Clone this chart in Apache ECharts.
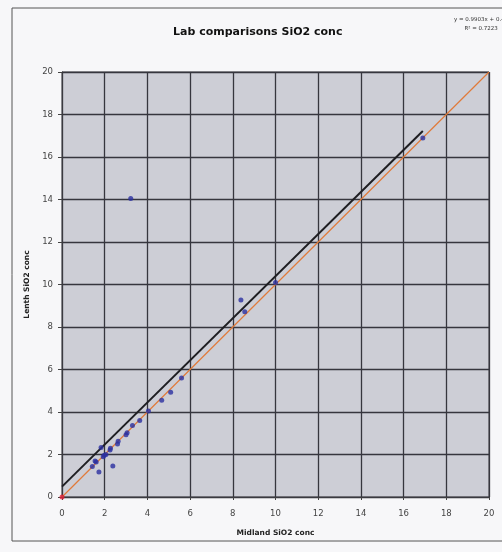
<!DOCTYPE html>
<html>
<head>
<meta charset="utf-8">
<script src="https://cdn.jsdelivr.net/npm/echarts@6/dist/echarts.min.js"></script>
<style>
  html, body { margin: 0; padding: 0; background: #f7f7f9; }
  #chart { width: 502px; height: 552px; }
</style>
</head>
<body>
<div id="chart"></div>
<script>
// Paired SiO2 concentrations measured by the two labs
const midland = [3.22, 16.9, 10.0, 8.38, 8.56, 5.6, 5.09, 4.67, 4.05, 3.64, 3.3, 3.05, 3.0,
                 2.63, 2.6, 2.27, 2.25, 1.83, 1.98, 2.06, 1.93, 1.55, 1.6, 1.42, 1.73, 2.38];
const lenth   = [14.05, 16.9, 10.1, 9.27, 8.72, 5.6, 4.93, 4.55, 4.05, 3.6, 3.36, 3.02, 2.93,
                 2.62, 2.5, 2.3, 2.21, 2.33, 1.97, 2.0, 1.9, 1.7, 1.65, 1.43, 1.18, 1.46];
const originPoint = [0, 0];

// Linear trendline fitted to the data, and the 1:1 reference line
const trendSlope = 0.9903;
const trendIntercept = 0.4898;
const trendR2 = 0.7223;
const parityRange = [0, 20];

const axisTicks = [0, 2, 4, 6, 8, 10, 12, 14, 16, 18, 20];

const title = 'Lab comparisons SiO2 conc';
const xName = 'Midland SiO2 conc';
const yName = 'Lenth SiO2 conc';

const points = midland.map((x, i) => [x, lenth[i]]);
const xMin = 0;
const xMax = Math.max(...midland);
const trendLine = [xMin, xMax].map(x => [x, trendSlope * x + trendIntercept]);
const parityLine = parityRange.map(v => [v, v]);

const chart = echarts.init(document.getElementById('chart'), null, { renderer: 'canvas' });
const font = 'DejaVu Sans, Verdana, sans-serif';

chart.setOption({
  backgroundColor: '#f7f7f9',
  animation: false,
  graphic: [
    { type: 'rect', shape: { x: 12, y: 8, width: 520, height: 533 },
      style: { fill: 'none', stroke: '#555', lineWidth: 1 }, silent: true },
    { type: 'text', left: 173, top: 27,
      style: { text: title, font: 'bold 11px ' + font, fill: '#111' } },
    { type: 'text', left: 454, top: 15,
      style: { text: 'y = ' + trendSlope.toFixed(4) + 'x + ' + trendIntercept.toFixed(4) +
                     '\n      R² = ' + trendR2.toFixed(4),
               font: '5.5px ' + font, fill: '#333', lineHeight: 9 } }
  ],
  grid: { left: 62, right: 13, top: 72, bottom: 55, show: true,
          backgroundColor: '#cdced6', borderColor: '#3a3a40', borderWidth: 1 },
  xAxis: {
    type: 'value', min: 0, max: 20, interval: 2,
    name: xName, nameLocation: 'middle', nameGap: 32,
    nameTextStyle: { fontFamily: font, fontSize: 7.5, fontWeight: 'bold', color: '#222' },
    axisLine: { lineStyle: { color: '#3a3a40' } },
    axisTick: { show: true, length: 3, lineStyle: { color: '#444' } },
    axisLabel: { fontFamily: font, fontSize: 8.5, color: '#444', margin: 12,
                 formatter: v => axisTicks.includes(v) ? String(v) : '' },
    splitLine: { lineStyle: { color: '#36363e', width: 1.3 } }
  },
  yAxis: {
    type: 'value', min: 0, max: 20, interval: 2,
    name: yName, nameLocation: 'middle', nameGap: 29,
    nameTextStyle: { fontFamily: font, fontSize: 7.5, fontWeight: 'bold', color: '#222' },
    axisLine: { show: true, lineStyle: { color: '#3a3a40' } },
    axisTick: { show: true, length: 4, lineStyle: { color: '#444' } },
    axisLabel: { fontFamily: font, fontSize: 8.5, color: '#444', margin: 9,
                 formatter: v => axisTicks.includes(v) ? String(v) : '' },
    splitLine: { lineStyle: { color: '#36363e', width: 1.3 } }
  },
  series: [
    { type: 'line', data: parityLine, symbol: 'none',
      lineStyle: { color: '#e07a3a', width: 1.2 }, z: 2 },
    { type: 'line', data: trendLine, symbol: 'none',
      lineStyle: { color: '#1e1e22', width: 2 }, z: 3 },
    { type: 'scatter', data: points, symbolSize: 5,
      itemStyle: { color: '#2b2fa0' }, z: 4 },
    { type: 'scatter', data: [originPoint], symbolSize: 5,
      itemStyle: { color: '#e0203a' }, z: 5 }
  ]
});
</script>
</body>
</html>
